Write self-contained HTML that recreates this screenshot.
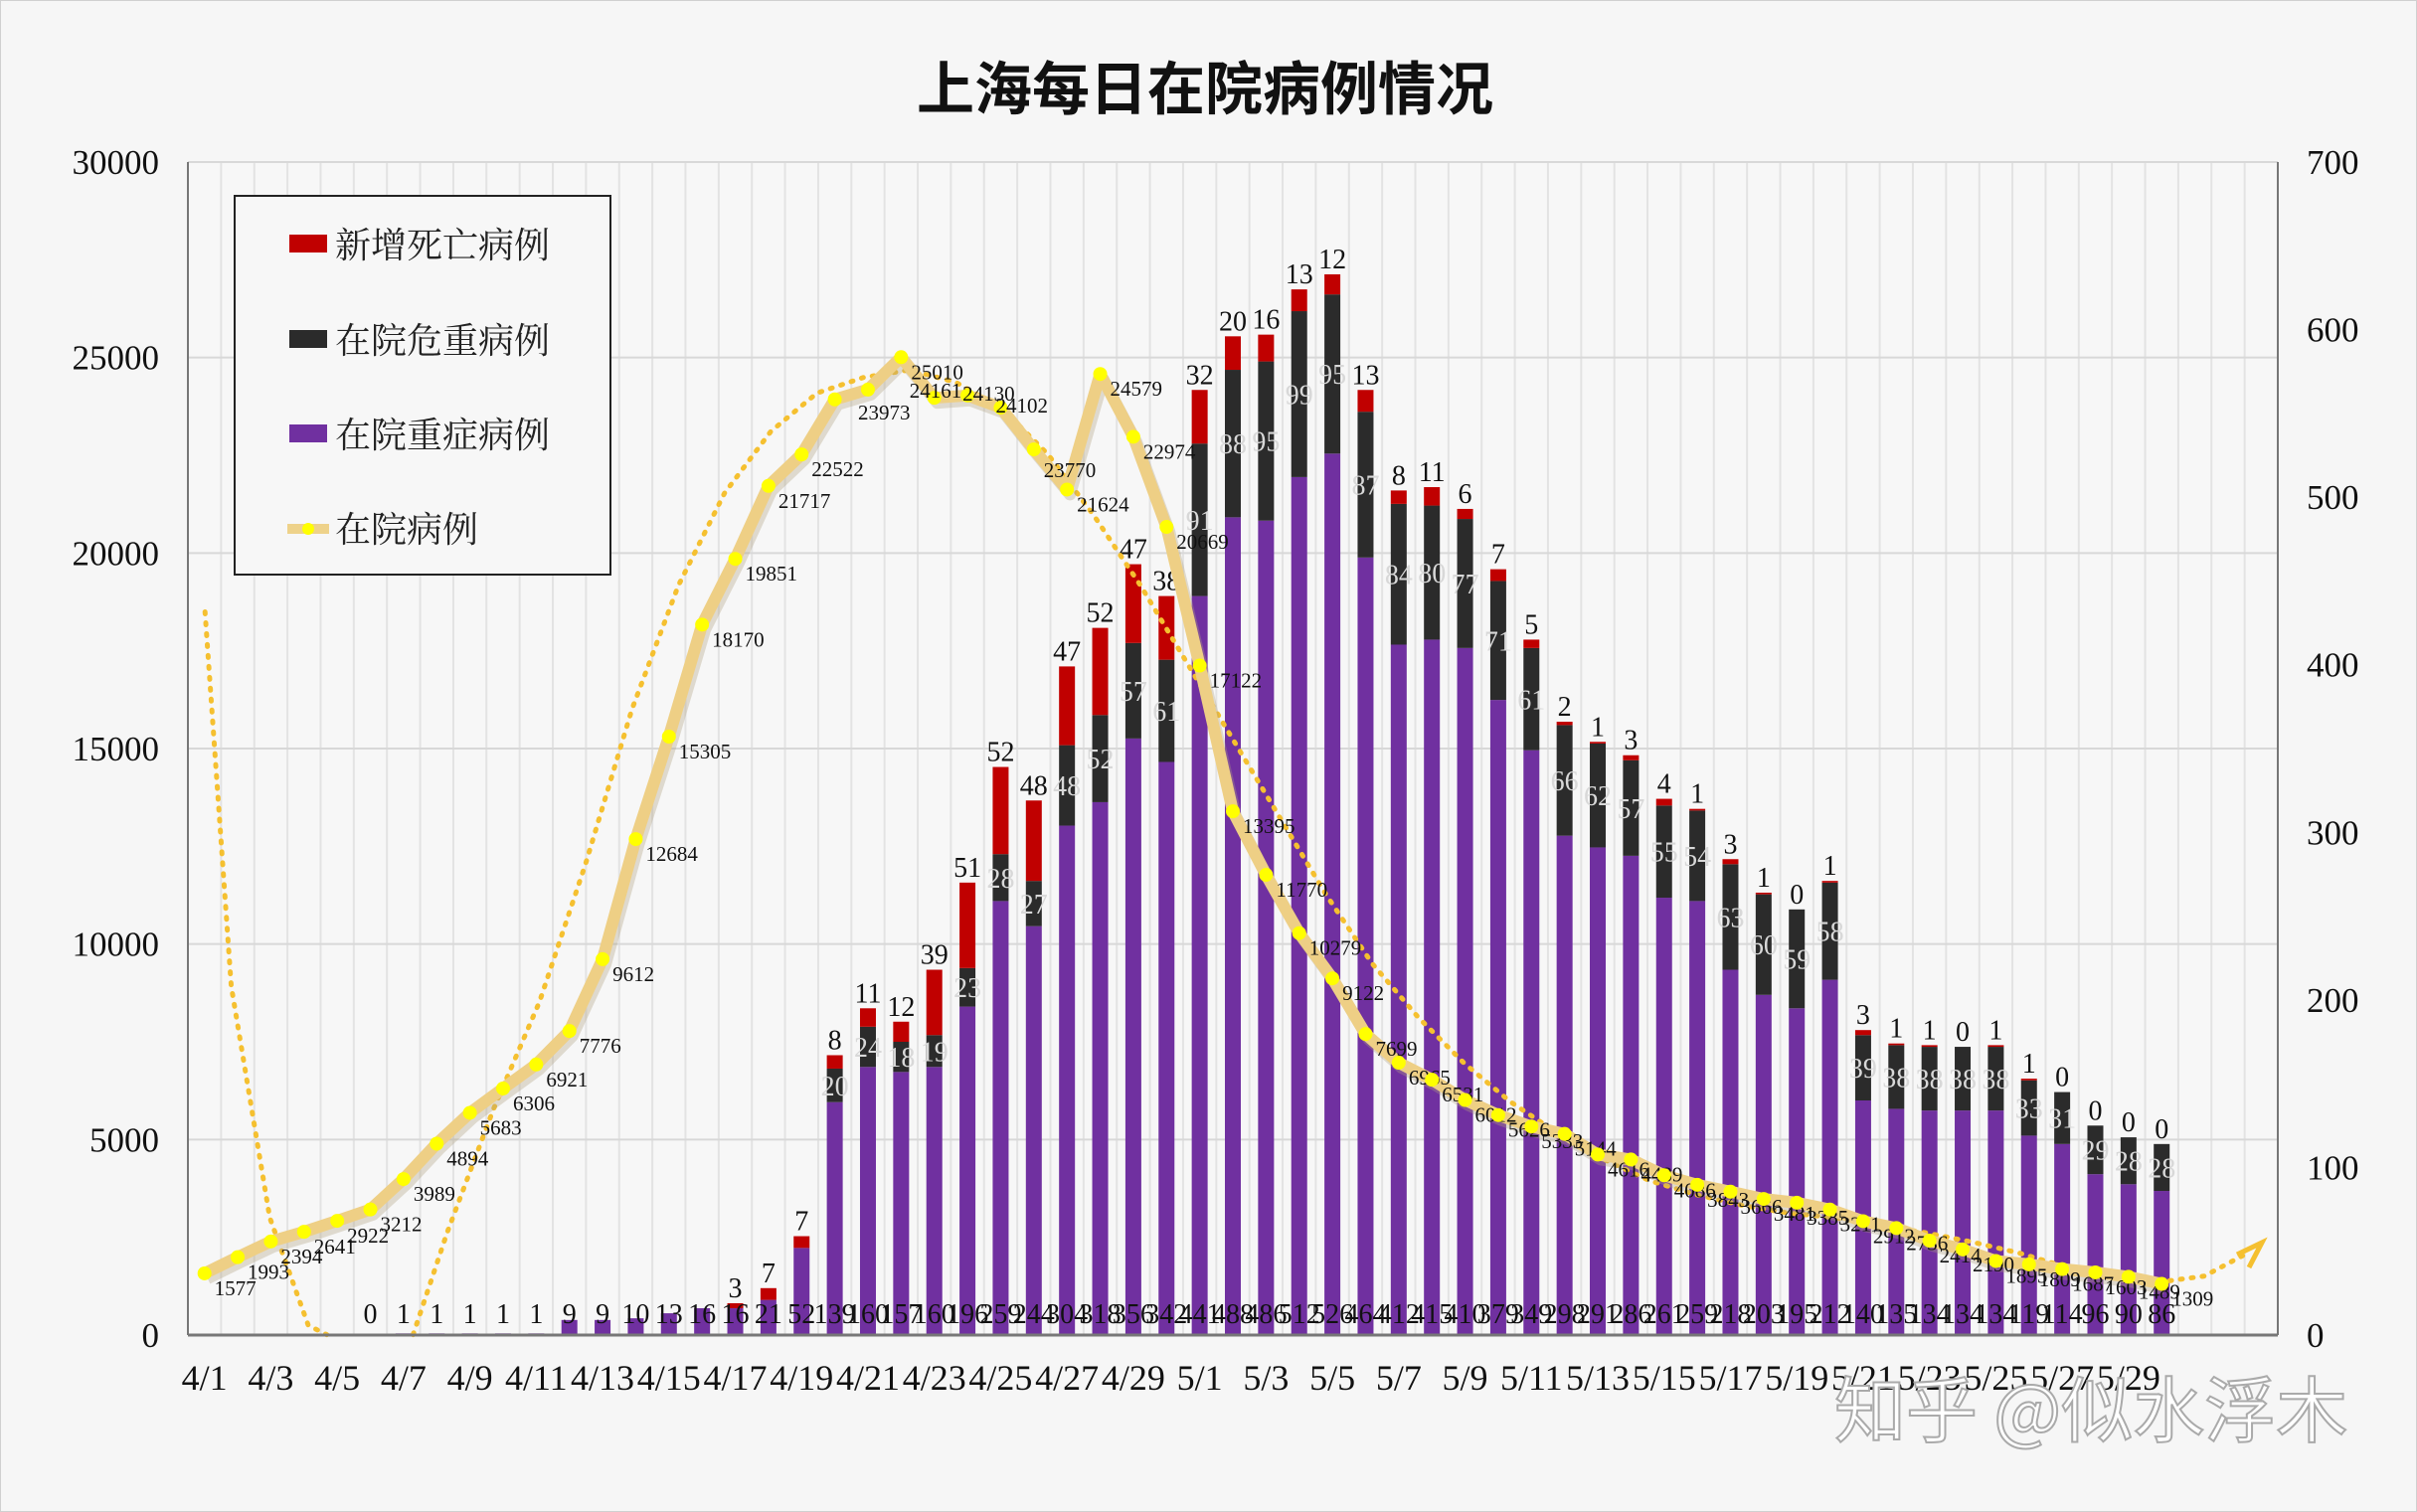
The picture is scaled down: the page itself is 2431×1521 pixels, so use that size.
<!DOCTYPE html>
<html><head><meta charset="utf-8"><style>
html,body{margin:0;padding:0;background:#f6f6f6;}
svg{display:block}
text{font-family:"Liberation Serif","Noto Serif CJK SC",serif;}
</style></head><body>
<svg id="s" width="2431" height="1521" xmlns="http://www.w3.org/2000/svg">
<rect x="0.5" y="0.5" width="2430" height="1520" fill="#f6f6f6" stroke="#d0d0d0"/>
<rect x="189" y="163" width="2102" height="1180" fill="#f7f7f7"/>
<g id="grid"></g>
<text x="1212" y="110" text-anchor="middle" font-size="58" font-weight="bold" style="font-family:'Noto Sans CJK SC',sans-serif" fill="#111">上海每日在院病例情况</text>
<g id="bars"></g>
<g id="trend"></g>
<g id="line"></g>
<g id="axes"></g>
<g>
<rect x="236" y="197" width="378" height="381" fill="#f7f7f7" stroke="#222" stroke-width="2"/>
<rect x="291" y="236" width="38" height="18" fill="#c00000"/>
<text x="337" y="259" font-size="36" style="font-family:'Noto Serif CJK SC',serif" fill="#222">新增死亡病例</text>
<rect x="291" y="332" width="38" height="18" fill="#2b2b2b"/>
<text x="337" y="355" font-size="36" style="font-family:'Noto Serif CJK SC',serif" fill="#222">在院危重病例</text>
<rect x="291" y="427" width="38" height="18" fill="#7030a0"/>
<text x="337" y="450" font-size="36" style="font-family:'Noto Serif CJK SC',serif" fill="#222">在院重症病例</text>
<line x1="289" y1="532" x2="331" y2="532" stroke="#eed28a" stroke-width="10"/>
<circle cx="310" cy="532" r="6" fill="#ffff00"/>
<text x="337" y="545" font-size="36" style="font-family:'Noto Serif CJK SC',serif" fill="#222">在院病例</text>
</g>
<text x="1845" y="1445" font-size="72" fill="#fff" stroke="#aaa" stroke-width="2" style="font-family:'Noto Sans CJK SC',sans-serif">知乎 @似水浮木</text>
</svg>
<script>
var NS="http://www.w3.org/2000/svg";
function el(p,t,a,txt){var e=document.createElementNS(NS,t);for(var k in a)e.setAttribute(k,a[k]);if(txt!==undefined)e.textContent=txt;document.getElementById(p).appendChild(e);return e;}
var L=189,R=2291,T=163,B=1343,H=1180,W=(R-L)/63;
function cx(i){return L+(i+0.5)*W;}
function yl(v){return B-v/30000*H;}
function yr(v){return B-v/700*H;}
for(var i=1;i<63;i++){el('grid','line',{x1:L+i*W,x2:L+i*W,y1:T,y2:B,stroke:'#e3e3e3','stroke-width':2});}
for(var v=5000;v<=30000;v+=5000){el('grid','line',{x1:L,x2:R,y1:yl(v),y2:yl(v),stroke:'#d8d8d8','stroke-width':2});}
var sev=[0,1,1,1,1,1,9,9,10,13,16,16,21,52,139,160,157,160,196,259,244,304,318,356,342,441,488,486,512,526,464,412,415,410,379,349,298,291,286,261,259,218,203,195,212,140,135,134,134,134,119,114,96,90,86];
var crit={19:20,20:24,21:18,22:19,23:23,24:28,25:27,26:48,27:52,28:57,29:61,30:91,31:88,32:95,33:99,34:95,35:87,36:84,37:80,38:77,39:71,40:61,41:66,42:62,43:57,44:55,45:54,46:63,47:60,48:59,49:58,50:39,51:38,52:38,53:38,54:38,55:33,56:31,57:29,58:28,59:28};
var dead={16:3,17:7,18:7,19:8,20:11,21:12,22:39,23:51,24:52,25:48,26:47,27:52,28:47,29:38,30:32,31:20,32:16,33:13,34:12,35:13,36:8,37:11,38:6,39:7,40:5,41:2,42:1,43:3,44:4,45:1,46:3,47:1,48:0,49:1,50:3,51:1,52:1,53:0,54:1,55:1,56:0,57:0,58:0,59:0};
var bw=16;
for(var k=0;k<sev.length;k++){var i=k+5,x=cx(i)-bw/2,s=sev[k],c=crit[i]||0,d=dead[i];
 el('bars','rect',{x:x,y:yr(s),width:bw,height:B-yr(s),fill:'#7030a0'});
 if(c){el('bars','rect',{x:x,y:yr(s+c),width:bw,height:yr(s)-yr(s+c),fill:'#2b2b2b'});
  el('bars','text',{x:cx(i),y:(yr(s)+yr(s+c))/2+10,'text-anchor':'middle','font-size':28,fill:'#d8d8d8'},c);}
 if(d!==undefined){ if(d>0)el('bars','rect',{x:x,y:yr(s+c+d),width:bw,height:yr(s+c)-yr(s+c+d),fill:'#c00000'});
  el('bars','text',{x:cx(i),y:yr(s+c+d)-6,'text-anchor':'middle','font-size':28,fill:'#111'},d);}
 el('bars','text',{x:cx(i),y:B-12,'text-anchor':'middle','font-size':28,fill:'#111'},s);
}
var tp=[[133,397],[150,640],[175,790],[200,860],[212,866]],tp2=[[268,866],[290,800],[320,720],[350,650],[380,560],[410,460],[440,380],[470,320],[500,280],[530,255],[560,245],[590,240],[620,248],[650,265],[680,295],[710,335],[740,380],[770,430],[800,480],[830,530],[860,580],[890,625],[920,660],[950,690],[980,715],[1010,735],[1040,752],[1070,766],[1100,775],[1130,782],[1160,787],[1190,790],[1220,795],[1250,800],[1280,806],[1310,813],[1340,822],[1370,828],[1400,832],[1430,828],[1460,812]];
function pth(a){return 'M'+a.map(function(p){return (p[0]*1.5504).toFixed(1)+','+(p[1]*1.5504).toFixed(1)}).join(' L');}
[tp,tp2].forEach(function(a){el('trend','path',{d:pth(a),fill:'none',stroke:'#f5c030','stroke-width':5,'stroke-dasharray':'2 9','stroke-linecap':'round'});});
el('trend','path',{d:'M2250,1262 L2275,1250 L2262,1275',fill:'none',stroke:'#f5c030','stroke-width':5});
var vals=[1577,1993,2394,2641,2922,3212,3989,4894,5683,6306,6921,7776,9612,12684,15305,18170,19851,21717,22522,23930,24180,25010,23970,24030,23720,22650,21624,24579,22974,20669,17122,13395,11770,10279,9122,7699,6965,6531,6012,5626,5333,5144,4616,4489,4086,3843,3666,3481,3385,3211,2912,2736,2414,2190,1895,1809,1687,1603,1489,1309];
var labs=vals.slice();
labs[19]='';labs[20]='23973';labs[21]='25010';labs[22]='24161';labs[23]='24130';labs[24]='24102';labs[25]='23770';
var lpos={20:[-10,30],22:[-25,0],23:[-5,5],24:[-5,5],25:[10,28]};
var pts=vals.map(function(v,i){return cx(i)+','+yl(v)}).join(' ');
el('line','polyline',{points:pts,fill:'none',stroke:'#b0a080','stroke-width':12,opacity:0.35,transform:'translate(3,5)','stroke-linejoin':'round'});
el('line','polyline',{points:pts,fill:'none',stroke:'#eecf85','stroke-width':12,'stroke-linejoin':'round'});
vals.forEach(function(v,i){el('line','circle',{cx:cx(i),cy:yl(v),r:7,fill:'#ffff00'});
 var o=lpos[i]||[10,22];
 if(labs[i]!=='')el('line','text',{x:cx(i)+o[0],y:yl(v)+o[1],'font-size':21,fill:'#111'},labs[i]);});
el('axes','line',{x1:L,x2:L,y1:T,y2:B,stroke:'#777','stroke-width':2});
el('axes','line',{x1:R,x2:R,y1:T,y2:B,stroke:'#777','stroke-width':2});
el('axes','line',{x1:L,x2:R,y1:B,y2:B,stroke:'#777','stroke-width':3});
for(var v=0;v<=30000;v+=5000)el('axes','text',{x:160,y:yl(v)+12,'text-anchor':'end','font-size':35,fill:'#111'},v);
for(var v=0;v<=700;v+=100)el('axes','text',{x:2320,y:yr(v)+12,'font-size':35,fill:'#111'},v);
var lab=['4/1','4/3','4/5','4/7','4/9','4/11','4/13','4/15','4/17','4/19','4/21','4/23','4/25','4/27','4/29','5/1','5/3','5/5','5/7','5/9','5/11','5/13','5/15','5/17','5/19','5/21','5/23','5/25','5/27','5/29'];
lab.forEach(function(t,j){el('axes','text',{x:cx(2*j),y:1398,'text-anchor':'middle','font-size':36,fill:'#111'},t);});
</script>
</body></html>
